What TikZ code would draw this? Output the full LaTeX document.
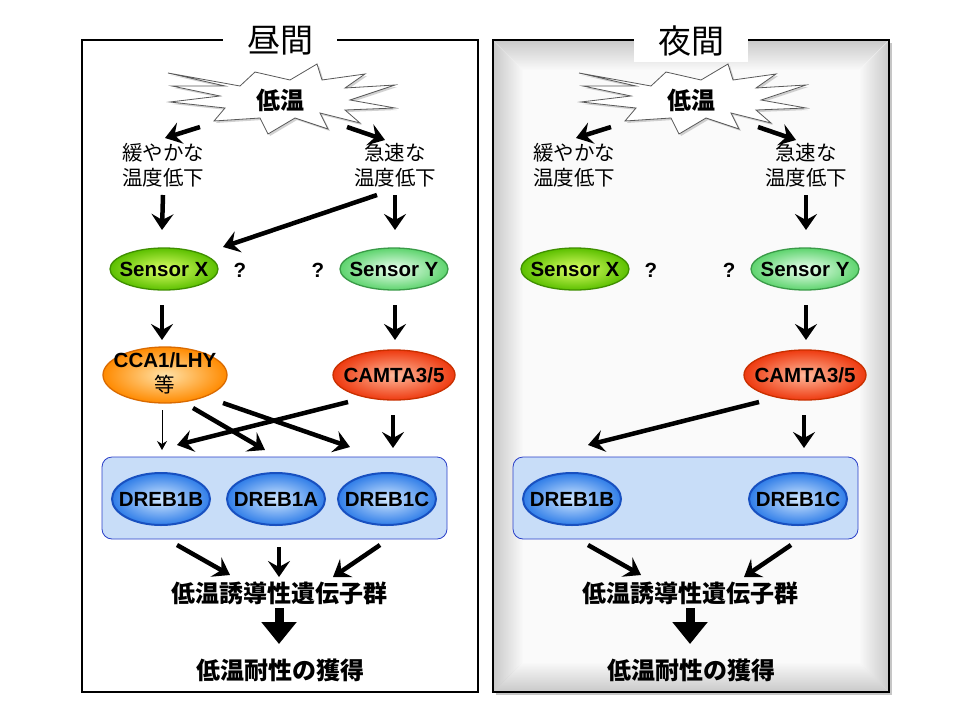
\documentclass[tikz,border=0pt]{standalone}
\usepackage{fontspec}
\setmainfont{Liberation Sans}
\newfontfamily\jp{Noto Sans CJK JP}
\usetikzlibrary{shapes,arrows.meta,shadows,fadings}

\definecolor{sxin}{HTML}{DDFF66}\definecolor{sxout}{HTML}{5CC000}\definecolor{sxline}{HTML}{3F8F00}
\definecolor{syin}{HTML}{EEFFF2}\definecolor{syout}{HTML}{5ED46E}\definecolor{syline}{HTML}{3A9A48}
\definecolor{ccin}{HTML}{FFE2A8}\definecolor{ccout}{HTML}{FF8A00}\definecolor{ccline}{HTML}{D96A00}
\definecolor{cmin}{HTML}{FFB89A}\definecolor{cmout}{HTML}{EE3A10}\definecolor{cmline}{HTML}{C83000}
\definecolor{drin}{HTML}{D2E8FF}\definecolor{drout}{HTML}{2F7DE8}\definecolor{drline}{HTML}{1850C0}
\definecolor{boxfill}{HTML}{C8DDF8}\definecolor{boxline}{HTML}{2A3FC8}

% label of fixed-size ovals
\newcommand\lbl[1]{\makebox[0pt]{#1}}
% starburst round (0,0)
\newcommand\burstpath{(-112,-27) -- (-40,-14) -- (-25,-28) -- (10,-20) -- (37,-36) -- (42,-20)
  -- (85,-26) -- (65,-12) -- (115,-15) -- (70,0) -- (115,8) -- (65,10) -- (80,23) -- (40,13)
  -- (48,29) -- (15,18) -- (-12,34) -- (-20,18) -- (-66,21) -- (-55,8) -- (-110,2) -- (-60,-4)
  -- (-108,-14) -- (-55,-14) -- cycle}

\begin{document}
\begin{tikzpicture}[x=1pt,y=-1pt, inner sep=0pt]% 1pt = 1px
\tikzstyle{every node}=[font=\bfseries\fontsize{20.5}{22}\selectfont]
\tikzstyle{oval}=[ellipse, draw, line width=1.3pt, minimum width=108pt, minimum height=42pt]
\tikzstyle{sensx}=[inner color=sxin, outer color=sxout, draw=sxline]
\tikzstyle{sensy}=[inner color=syin, outer color=syout, draw=syline]
\tikzstyle{ccaoval}=[inner color=ccin, outer color=ccout, draw=ccline]
\tikzstyle{camoval}=[inner color=cmin, outer color=cmout, draw=cmline]
\tikzstyle{dreb}=[oval, inner color=drin, outer color=drout, draw=drline, line width=2pt, minimum width=98pt, minimum height=52pt]
\tikzstyle{grpbox}=[rectangle, rounded corners=10pt, fill=boxfill, draw=boxline, line width=0.8pt, minimum width=345pt, minimum height=82pt]
\tikzstyle{jtxt}=[font=\jp\fontsize{20.5}{25}\selectfont, align=center]
\tikzstyle{jbold}=[font=\jp\bfseries\fontsize{24}{26}\selectfont]
\tikzstyle{burst}=[fill=white, draw=gray!70!black, line width=0.8pt, shift={(280,100)},
  drop shadow={opacity=0.35, shadow xshift=2pt, shadow yshift=-2pt}]
\tikzstyle{arr}=[line width=4.5pt, -{Stealth[length=16pt,width=22pt,inset=6pt]}]
\tikzstyle{thinarr}=[line width=1pt, -{Stealth[length=9pt,width=10pt,inset=3pt]}]
\tikzstyle{bigarr}=[line width=9pt, -{Triangle[length=22pt,width=34pt]}]
\tikzstyle{panel}=[draw, line width=1.6pt]
\tikzstyle{bevel}=[fill=gray!42]

\useasboundingbox (0,0) rectangle (960,720);
\fill[white] (0,0) rectangle (960,720);

% panels
\draw[panel, fill=white] (82,40) rectangle (478,692);
\fill[gray!45] (496,43) rectangle (892,695);
\fill[gray!4] (493,40) rectangle (889,692);
\fill[bevel, path fading=east] (493,40) -- (523,70) -- (523,662) -- (493,692) -- cycle;
\fill[bevel, path fading=west] (889,40) -- (859,70) -- (859,662) -- (889,692) -- cycle;
\fill[bevel, path fading=south] (493,40) -- (889,40) -- (859,70) -- (523,70) -- cycle;
\fill[bevel, path fading=north] (493,692) -- (889,692) -- (859,662) -- (523,662) -- cycle;
\draw[panel] (493,40) rectangle (889,692);

\foreach \p/\dx/\ttl in {d/0/昼間, n/411/夜間}{
\begin{scope}[shift={(\dx,0)}]
\node[fill=white, minimum width=114pt, minimum height=42pt, font=\jp\fontsize{33}{36}\selectfont] (\p-ttl) at (280,41) {\ttl};
\draw[burst] \burstpath;
\node[jbold] (\p-low) at (280,100) {低温};
\node[jtxt] (\p-slow) at (163,165) {緩やかな\\温度低下};
\node[jtxt] (\p-fast) at (395,165) {急速な\\温度低下};
\node[oval, sensx] (\p-sx) at (164,269) {\lbl{Sensor X}};
\node[oval, sensy] (\p-sy) at (394,269) {\lbl{Sensor Y}};
\node (\p-qx) at (240,270) {?};
\node (\p-qy) at (318,270) {?};
\node[oval, camoval, minimum width=122pt, minimum height=50pt] (\p-camta) at (394,375) {\lbl{CAMTA3/5}};
\node[grpbox] (\p-grp) at (274.5,498) {};
\node[dreb] (\p-d1b) at (161,499) {\lbl{DREB1B}};
\node[dreb] (\p-d1c) at (387,499) {\lbl{DREB1C}};
\node[jbold] (\p-genes) at (279,593) {低温誘導性遺伝子群};
\node[jbold] (\p-tol) at (280,670) {低温耐性の獲得};

\draw[arr] ([shift={(-80,27)}]\p-low.center) -- ([shift={(2,-27)}]\p-slow.center);
\draw[arr] ([shift={(67,27)}]\p-low.center) -- ([shift={(-10,-25)}]\p-fast.center);
\draw[arr] ([shift={(0,30)}]\p-fast.center) -- ([shift={(1,-39)}]\p-sy.center);
\draw[arr] ([shift={(1,36)}]\p-sy.center) -- ([shift={(1,-35)}]\p-camta.center);
\draw[arr] ([shift={(-46,27)}]\p-camta.center) -- ([shift={(16,-54)}]\p-d1b.center);
\draw[arr] ([shift={(-1,40)}]\p-camta.center) -- ([shift={(6,-51)}]\p-d1c.center);
\draw[arr] ([shift={(16,46)}]\p-d1b.center) -- ([shift={(-49,-18)}]\p-genes.center);
\draw[arr] ([shift={(-7,46)}]\p-d1c.center) -- ([shift={(54,-16)}]\p-genes.center);
\draw[bigarr] ([shift={(0,15)}]\p-genes.center) -- ([shift={(-1,-26)}]\p-tol.center);
\end{scope}
}

% daytime only
\node[oval, ccaoval, minimum width=124pt, minimum height=56pt, inner ysep=-6pt, font=\bfseries\fontsize{20.5}{25}\selectfont] (d-cca) at (165,375)
  {\lbl{\begin{tabular}{@{}c@{}}CCA1/LHY\\{\jp\mdseries 等}\end{tabular}}};
\node[dreb] (d-d1a) at (276,499) {\lbl{DREB1A}};
\draw[arr] ([shift={(0,30)}]d-slow.center) -- ([shift={(-2,-39)}]d-sx.center);
\draw[arr] ([shift={(-18,30)}]d-fast.center) -- ([shift={(59,-22)}]d-sx.center);
\draw[arr] ([shift={(-2,36)}]d-sx.center) -- ([shift={(-3,-35)}]d-cca.center);
\draw[thinarr] ([shift={(-3,35)}]d-cca.center) -- ([shift={(1,-49)}]d-d1b.center);
\draw[arr] ([shift={(28,33)}]d-cca.center) -- ([shift={(-11,-49)}]d-d1a.center);
\draw[arr] ([shift={(58,28)}]d-cca.center) -- ([shift={(-37,-52)}]d-d1c.center);
\draw[arr] ([shift={(3,48)}]d-d1a.center) -- ([shift={(0,-16)}]d-genes.center);

\end{tikzpicture}
\end{document}
